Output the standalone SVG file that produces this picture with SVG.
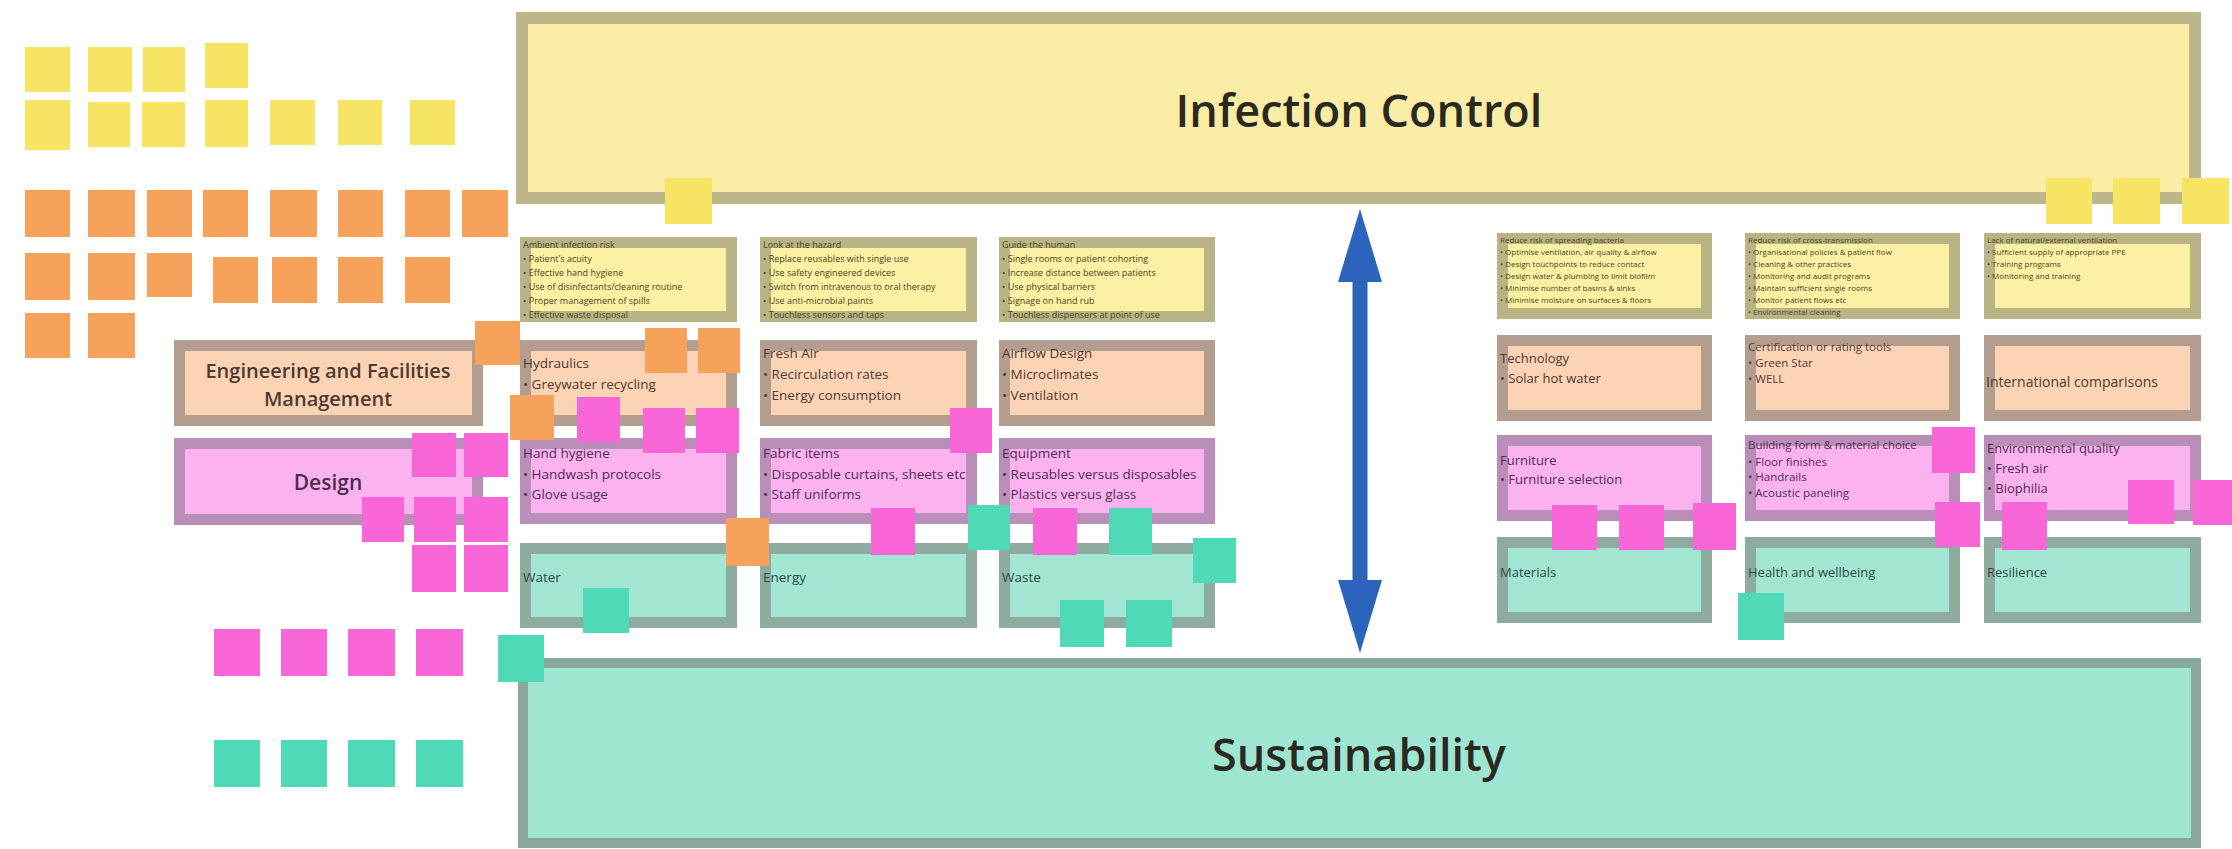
<svg xmlns="http://www.w3.org/2000/svg" width="2232" height="849" viewBox="0 0 2232 849">
<defs>
<style>
text{font-family:"Open Sans","Noto Sans","Liberation Sans",sans-serif;}
.by{fill:#fcf0a4;stroke:#b9b486;stroke-width:11}
.bo{fill:#fdd3b6;stroke:#b39d8f;stroke-width:11}
.bp{fill:#fbb2ef;stroke:#b98fb9;stroke-width:11}
.bt{fill:#a3e5d3;stroke:#8eaba0;stroke-width:11}
.sy{fill:#f6e462}
.so{fill:#f6a25a}
.sp{fill:#f866d8}
.st{fill:#50d9b6}
.big{font-size:45px;font-weight:600;fill:#2b2a22;text-anchor:middle}
.hd{font-size:20px;font-weight:600;text-anchor:middle}
.t{font-size:13.5px}
.r{font-size:13px}
.rs{font-size:11.5px}
.y{font-size:9px;fill:#4a4420}
.ys{font-size:8px;fill:#4a4420}
.to{fill:#4e3a2e}
.tp{fill:#4e2d50}
.tt{fill:#2e4a42}
</style>
<marker id="ah" viewBox="0 0 73 44" markerUnits="userSpaceOnUse" markerWidth="73" markerHeight="44" refX="1" refY="22" orient="auto-start-reverse">
<path d="M0,0 L73,22 L0,44 Z" fill="#2c64bb"/>
</marker>
</defs>
<rect width="2232" height="849" fill="#ffffff"/>

<g id="infection-control">
<rect x="522" y="18" width="1673" height="180" fill="#fbeca6" stroke="#bdb68a" stroke-width="12"/>
<text class="big" x="1359" y="127">Infection Control</text>
</g>
<g id="sustainability">
<rect x="523" y="663" width="1673" height="180" fill="#9fe6d2" stroke="#8aa99d" stroke-width="10"/>
<text class="big" x="1359" y="771">Sustainability</text>
</g>

<g id="efm">
<rect class="bo" x="179.5" y="345.5" width="298" height="75"/>
<text class="hd to" x="328" y="378">Engineering and Facilities</text>
<text class="hd to" x="328" y="406">Management</text>
</g>
<g id="design">
<rect class="bp" x="179.5" y="443.5" width="298" height="76"/>
<text class="hd tp" x="328" y="490" style="font-size:21px">Design</text>
</g>

<!-- left grid: yellow row -->
<g id="ic-ambient">
<rect class="by" x="525.5" y="242.5" width="206" height="74"/>
<text class="y"><tspan x="523" y="248">Ambient infection risk</tspan><tspan x="523" y="262">• Patient's acuity</tspan><tspan x="523" y="276">• Effective hand hygiene</tspan><tspan x="523" y="290">• Use of disinfectants/cleaning routine</tspan><tspan x="523" y="304">• Proper management of spills</tspan><tspan x="523" y="318">• Effective waste disposal</tspan></text>
</g>
<g id="ic-hazard">
<rect class="by" x="765.5" y="242.5" width="206" height="74"/>
<text class="y"><tspan x="763" y="248">Look at the hazard</tspan><tspan x="763" y="262">• Replace reusables with single use</tspan><tspan x="763" y="276">• Use safety engineered devices</tspan><tspan x="763" y="290">• Switch from intravenous to oral therapy</tspan><tspan x="763" y="304">• Use anti-microbial paints</tspan><tspan x="763" y="318">• Touchless sensors and taps</tspan></text>
</g>
<g id="ic-human">
<rect class="by" x="1004.5" y="242.5" width="205" height="74"/>
<text class="y"><tspan x="1002" y="248">Guide the human</tspan><tspan x="1002" y="262">• Single rooms or patient cohorting</tspan><tspan x="1002" y="276">• Increase distance between patients</tspan><tspan x="1002" y="290">• Use physical barriers</tspan><tspan x="1002" y="304">• Signage on hand rub</tspan><tspan x="1002" y="318">• Touchless dispensers at point of use</tspan></text>
</g>

<!-- left grid: orange row -->
<g id="hydraulics">
<rect class="bo" x="525.5" y="345.5" width="206" height="75"/>
<text class="t to"><tspan x="523" y="368">Hydraulics</tspan><tspan x="523" y="389">• Greywater recycling</tspan></text>
</g>
<g id="fresh-air">
<rect class="bo" x="765.5" y="345.5" width="206" height="75"/>
<text class="t to"><tspan x="763" y="358">Fresh Air</tspan><tspan x="763" y="379">• Recirculation rates</tspan><tspan x="763" y="400">• Energy consumption</tspan></text>
</g>
<g id="airflow-design">
<rect class="bo" x="1004.5" y="345.5" width="205" height="75"/>
<text class="t to"><tspan x="1002" y="358">Airflow Design</tspan><tspan x="1002" y="379">• Microclimates</tspan><tspan x="1002" y="400">• Ventilation</tspan></text>
</g>

<!-- left grid: pink row -->
<g id="hand-hygiene">
<rect class="bp" x="525.5" y="443.5" width="206" height="75"/>
<text class="t tp"><tspan x="523" y="458">Hand hygiene</tspan><tspan x="523" y="479">• Handwash protocols</tspan><tspan x="523" y="499">• Glove usage</tspan></text>
</g>
<g id="fabric-items">
<rect class="bp" x="765.5" y="443.5" width="206" height="75"/>
<text class="t tp"><tspan x="763" y="458">Fabric items</tspan><tspan x="763" y="479">• Disposable curtains, sheets etc</tspan><tspan x="763" y="499">• Staff uniforms</tspan></text>
</g>
<g id="equipment">
<rect class="bp" x="1004.5" y="443.5" width="205" height="75"/>
<text class="t tp"><tspan x="1002" y="458">Equipment</tspan><tspan x="1002" y="479">• Reusables versus disposables</tspan><tspan x="1002" y="499">• Plastics versus glass</tspan></text>
</g>

<!-- left grid: teal row -->
<g id="water">
<rect class="bt" x="525.5" y="548.5" width="206" height="74"/>
<text class="t tt" x="523" y="582">Water</text>
</g>
<g id="energy">
<rect class="bt" x="765.5" y="548.5" width="206" height="74"/>
<text class="t tt" x="763" y="582">Energy</text>
</g>
<g id="waste">
<rect class="bt" x="1004.5" y="548.5" width="205" height="74"/>
<text class="t tt" x="1002" y="582">Waste</text>
</g>

<!-- right grid: yellow row -->
<g id="ic-spread">
<rect class="by" x="1502.5" y="238.5" width="204" height="75"/>
<text class="ys"><tspan x="1500" y="243">Reduce risk of spreading bacteria</tspan><tspan x="1500" y="255">• Optimise ventilation, air quality &amp; airflow</tspan><tspan x="1500" y="267">• Design touchpoints to reduce contact</tspan><tspan x="1500" y="279">• Design water &amp; plumbing to limit biofilm</tspan><tspan x="1500" y="291">• Minimise number of basins &amp; sinks</tspan><tspan x="1500" y="303">• Minimise moisture on surfaces &amp; floors</tspan></text>
</g>
<g id="ic-transmission">
<rect class="by" x="1750.5" y="238.5" width="204" height="75"/>
<text class="ys"><tspan x="1748" y="243">Reduce risk of cross-transmission</tspan><tspan x="1748" y="255">• Organisational policies &amp; patient flow</tspan><tspan x="1748" y="267">• Cleaning &amp; other practices</tspan><tspan x="1748" y="279">• Monitoring and audit programs</tspan><tspan x="1748" y="291">• Maintain sufficient single rooms</tspan><tspan x="1748" y="303">• Monitor patient flows etc</tspan><tspan x="1748" y="315">• Environmental cleaning</tspan></text>
</g>
<g id="ic-ventilation">
<rect class="by" x="1989.5" y="238.5" width="206" height="75"/>
<text class="ys"><tspan x="1987" y="243">Lack of natural/external ventilation</tspan><tspan x="1987" y="255">• Sufficient supply of appropriate PPE</tspan><tspan x="1987" y="267">• Training programs</tspan><tspan x="1987" y="279">• Monitoring and training</tspan></text>
</g>

<!-- right grid: orange row -->
<g id="technology">
<rect class="bo" x="1502.5" y="340.5" width="204" height="75"/>
<text class="r to"><tspan x="1500" y="363">Technology</tspan><tspan x="1500" y="383">• Solar hot water</tspan></text>
</g>
<g id="certification">
<rect class="bo" x="1750.5" y="340.5" width="204" height="75"/>
<text class="rs to"><tspan x="1748" y="351">Certification or rating tools</tspan><tspan x="1748" y="367">• Green Star</tspan><tspan x="1748" y="383">• WELL</tspan></text>
</g>
<g id="international">
<rect class="bo" x="1989.5" y="340.5" width="206" height="75"/>
<text class="r to" x="1986" y="387" style="font-size:14px">International comparisons</text>
</g>

<!-- right grid: pink row -->
<g id="furniture">
<rect class="bp" x="1502.5" y="440.5" width="204" height="75"/>
<text class="r tp"><tspan x="1500" y="465">Furniture</tspan><tspan x="1500" y="484">• Furniture selection</tspan></text>
</g>
<g id="building-form">
<rect class="bp" x="1750.5" y="440.5" width="204" height="75"/>
<text class="rs tp"><tspan x="1748" y="449">Building form &amp; material choice</tspan><tspan x="1748" y="466">• Floor finishes</tspan><tspan x="1748" y="481">• Handrails</tspan><tspan x="1748" y="497">• Acoustic paneling</tspan></text>
</g>
<g id="environmental-quality">
<rect class="bp" x="1989.5" y="440.5" width="206" height="75"/>
<text class="r tp"><tspan x="1987" y="453">Environmental quality</tspan><tspan x="1987" y="473">• Fresh air</tspan><tspan x="1987" y="493">• Biophilia</tspan></text>
</g>

<!-- right grid: teal row -->
<g id="materials">
<rect class="bt" x="1502.5" y="542.5" width="204" height="75"/>
<text class="r tt" x="1500" y="577">Materials</text>
</g>
<g id="health-wellbeing">
<rect class="bt" x="1750.5" y="542.5" width="204" height="75"/>
<text class="r tt" x="1748" y="577">Health and wellbeing</text>
</g>
<g id="resilience">
<rect class="bt" x="1989.5" y="542.5" width="206" height="75"/>
<text class="r tt" x="1987" y="577">Resilience</text>
</g>

<g id="connectors">
<line x1="1360" y1="281" x2="1360" y2="581" stroke="#2c64bb" stroke-width="15" marker-start="url(#ah)" marker-end="url(#ah)"/>
</g>

<g id="stickies-yellow">
<rect class="sy" x="25" y="47" width="45" height="45"/>
<rect class="sy" x="88" y="47" width="44" height="45"/>
<rect class="sy" x="143" y="47" width="42" height="45"/>
<rect class="sy" x="205" y="43" width="43" height="45"/>
<rect class="sy" x="25" y="100" width="45" height="50"/>
<rect class="sy" x="88" y="102" width="42" height="45"/>
<rect class="sy" x="142" y="102" width="43" height="45"/>
<rect class="sy" x="205" y="100" width="43" height="47"/>
<rect class="sy" x="270" y="100" width="45" height="45"/>
<rect class="sy" x="338" y="100" width="44" height="45"/>
<rect class="sy" x="410" y="100" width="45" height="45"/>
<rect class="sy" x="665" y="178" width="47" height="46"/>
<rect class="sy" x="2046" y="178" width="46" height="46"/>
<rect class="sy" x="2113" y="178" width="47" height="46"/>
<rect class="sy" x="2182" y="178" width="47" height="46"/>
</g>

<g id="stickies-orange">
<rect class="so" x="25" y="190" width="45" height="47"/>
<rect class="so" x="88" y="190" width="47" height="47"/>
<rect class="so" x="147" y="190" width="45" height="47"/>
<rect class="so" x="203" y="190" width="45" height="47"/>
<rect class="so" x="270" y="190" width="47" height="47"/>
<rect class="so" x="338" y="190" width="45" height="47"/>
<rect class="so" x="405" y="190" width="45" height="47"/>
<rect class="so" x="462" y="190" width="46" height="47"/>
<rect class="so" x="25" y="253" width="45" height="47"/>
<rect class="so" x="88" y="253" width="47" height="47"/>
<rect class="so" x="147" y="253" width="45" height="44"/>
<rect class="so" x="213" y="257" width="45" height="46"/>
<rect class="so" x="272" y="257" width="45" height="46"/>
<rect class="so" x="338" y="257" width="45" height="46"/>
<rect class="so" x="405" y="257" width="45" height="46"/>
<rect class="so" x="25" y="313" width="45" height="45"/>
<rect class="so" x="88" y="313" width="47" height="45"/>
<rect class="so" x="475" y="321" width="45" height="44"/>
<rect class="so" x="645" y="328" width="42" height="45"/>
<rect class="so" x="698" y="328" width="42" height="45"/>
<rect class="so" x="510" y="395" width="44" height="45"/>
<rect class="so" x="726" y="518" width="43" height="48"/>
</g>

<g id="stickies-pink">
<rect class="sp" x="577" y="397" width="43" height="45"/>
<rect class="sp" x="643" y="408" width="42" height="45"/>
<rect class="sp" x="696" y="408" width="43" height="45"/>
<rect class="sp" x="950" y="408" width="42" height="45"/>
<rect class="sp" x="412" y="433" width="44" height="44"/>
<rect class="sp" x="464" y="433" width="44" height="44"/>
<rect class="sp" x="362" y="497" width="42" height="45"/>
<rect class="sp" x="414" y="497" width="42" height="45"/>
<rect class="sp" x="464" y="497" width="44" height="45"/>
<rect class="sp" x="412" y="545" width="44" height="47"/>
<rect class="sp" x="464" y="545" width="44" height="47"/>
<rect class="sp" x="871" y="508" width="44" height="47"/>
<rect class="sp" x="1033" y="508" width="44" height="47"/>
<rect class="sp" x="1932" y="427" width="43" height="46"/>
<rect class="sp" x="1552" y="505" width="45" height="45"/>
<rect class="sp" x="1619" y="505" width="45" height="45"/>
<rect class="sp" x="1693" y="503" width="43" height="47"/>
<rect class="sp" x="1935" y="502" width="45" height="45"/>
<rect class="sp" x="2002" y="502" width="45" height="48"/>
<rect class="sp" x="2128" y="480" width="46" height="44"/>
<rect class="sp" x="2193" y="480" width="40" height="45"/>
<rect class="sp" x="214" y="629" width="46" height="47"/>
<rect class="sp" x="281" y="629" width="46" height="47"/>
<rect class="sp" x="348" y="629" width="47" height="47"/>
<rect class="sp" x="416" y="629" width="47" height="47"/>
</g>

<g id="stickies-teal">
<rect class="st" x="968" y="505" width="42" height="45"/>
<rect class="st" x="1109" y="508" width="43" height="47"/>
<rect class="st" x="1193" y="538" width="43" height="45"/>
<rect class="st" x="583" y="588" width="46" height="45"/>
<rect class="st" x="1060" y="600" width="44" height="47"/>
<rect class="st" x="1126" y="600" width="46" height="47"/>
<rect class="st" x="498" y="635" width="46" height="47"/>
<rect class="st" x="1738" y="593" width="46" height="47"/>
<rect class="st" x="214" y="740" width="46" height="47"/>
<rect class="st" x="281" y="740" width="46" height="47"/>
<rect class="st" x="348" y="740" width="47" height="47"/>
<rect class="st" x="416" y="740" width="47" height="47"/>
</g>
</svg>
